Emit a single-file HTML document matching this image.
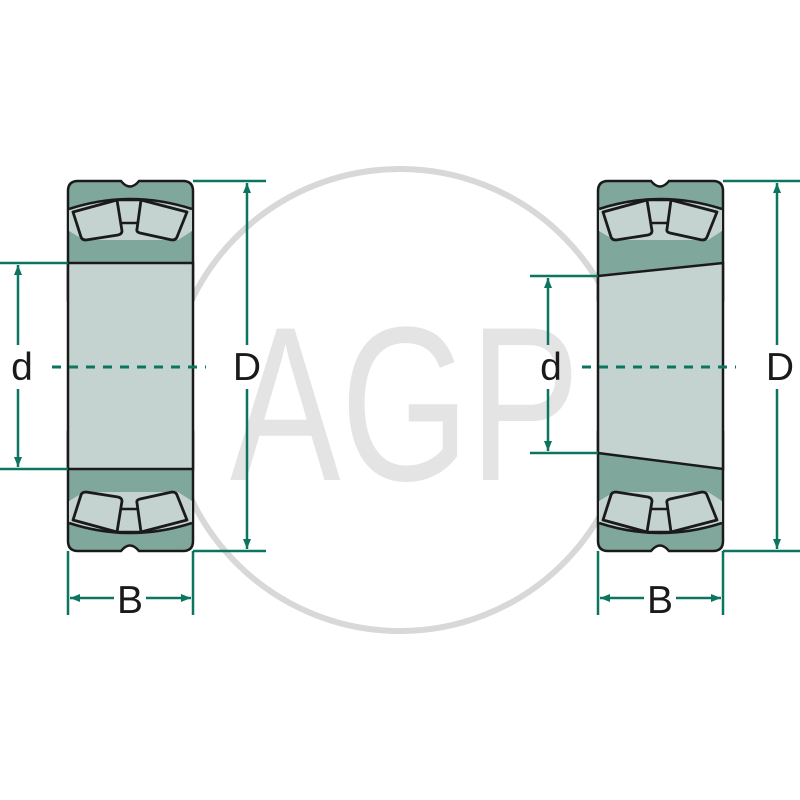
<!DOCTYPE html>
<html><head><style>html,body{margin:0;padding:0;background:#fff}svg{display:block}</style></head>
<body>
<svg width="800" height="800" viewBox="0 0 800 800" xmlns="http://www.w3.org/2000/svg">
<defs>
<marker id="ar" viewBox="0 0 10 10" refX="10" refY="5" markerWidth="11" markerHeight="10" markerUnits="userSpaceOnUse" orient="auto-start-reverse"><path d="M0,1 L10,5 L0,9 Z" fill="#0b7560"/></marker>
<g id="top">
<path d="M68,300 L68,191 Q68,181 78,181 L121,181 Q130,192 139,181 L183,181 Q193,181 193,191 L193,300 Z" fill="#7fa79c" stroke="#1a1a1a" stroke-width="2.5"/>
<path d="M69,209 Q130,189 192,209 L192,231 L178,240 L84,240 L69,231 Z" fill="#c4d3cf" stroke="none"/>
<path d="M69,209 Q130,189 192,209" fill="none" stroke="#1a1a1a" stroke-width="2.5"/>
<path d="M117,200 L141,200 L141,223 L117,223 Z" fill="#c4d3cf" stroke="#1a1a1a" stroke-width="2.5"/>
<path d="M73,212 L117,200 L122,231 Q122,234 118,235 L86,240 Q82,240 81,237 Z" fill="#c4d3cf" stroke="#1a1a1a" stroke-width="2.8" stroke-linejoin="round"/>
<path d="M141,200 L187,212 L177,237 Q176,240 172,240 L140,233 Q136,232 137,229 Z" fill="#c4d3cf" stroke="#1a1a1a" stroke-width="2.8" stroke-linejoin="round"/>
</g>
</defs>
<text x="405" y="480" font-family="Liberation Sans, sans-serif" font-size="220" fill="#e4e4e4" text-anchor="middle" textLength="350" lengthAdjust="spacingAndGlyphs">AGP</text>
<circle cx="400" cy="400" r="231" fill="none" stroke="#d8d8d8" stroke-width="6"/>

<use href="#top"/>
<use href="#top" transform="translate(0,732) scale(1,-1)"/>
<rect x="68" y="263" width="125" height="206" fill="#c4d3cf" stroke="#1a1a1a" stroke-width="2.5"/>

<use href="#top" transform="translate(530,0)"/>
<use href="#top" transform="translate(530,732) scale(1,-1)"/>
<path d="M598,276 L723,263 L723,469 L598,453 Z" fill="#c4d3cf" stroke="#1a1a1a" stroke-width="2.5"/>

<g stroke="#0b7560" stroke-width="2.5" fill="none">
<line x1="193" y1="181" x2="266" y2="181"/><line x1="193" y1="551" x2="266" y2="551"/>
<line x1="247" y1="183" x2="247" y2="345" marker-start="url(#ar)"/><line x1="247" y1="389" x2="247" y2="549" marker-end="url(#ar)"/>
<line x1="0" y1="263" x2="68" y2="263"/><line x1="0" y1="469" x2="68" y2="469"/>
<line x1="18" y1="265" x2="18" y2="345" marker-start="url(#ar)"/><line x1="18" y1="389" x2="18" y2="467" marker-end="url(#ar)"/>
<line x1="68" y1="551" x2="68" y2="615"/><line x1="193" y1="551" x2="193" y2="615"/>
<line x1="70" y1="598" x2="114" y2="598" marker-start="url(#ar)"/><line x1="146" y1="598" x2="191" y2="598" marker-end="url(#ar)"/>
<line x1="52" y1="367" x2="206" y2="367" stroke-dasharray="9,8" stroke-width="3"/>
<line x1="723" y1="181" x2="800" y2="181"/><line x1="723" y1="551" x2="800" y2="551"/>
<line x1="777" y1="183" x2="777" y2="345" marker-start="url(#ar)"/><line x1="777" y1="389" x2="777" y2="549" marker-end="url(#ar)"/>
<line x1="530" y1="276" x2="598" y2="276"/><line x1="530" y1="453" x2="598" y2="453"/>
<line x1="548" y1="278" x2="548" y2="345" marker-start="url(#ar)"/><line x1="548" y1="389" x2="548" y2="451" marker-end="url(#ar)"/>
<line x1="598" y1="551" x2="598" y2="615"/><line x1="723" y1="551" x2="723" y2="615"/>
<line x1="600" y1="598" x2="644" y2="598" marker-start="url(#ar)"/><line x1="676" y1="598" x2="721" y2="598" marker-end="url(#ar)"/>
<line x1="582" y1="367" x2="736" y2="367" stroke-dasharray="9,8" stroke-width="3"/>
</g>
<g font-family="Liberation Sans, sans-serif" font-size="39" fill="#1a1a1a" text-anchor="middle">
<text x="22" y="380">d</text>
<text x="247" y="380">D</text>
<text x="130" y="613">B</text>
<text x="551" y="380">d</text>
<text x="780" y="380">D</text>
<text x="660" y="613">B</text>
</g>
</svg>
</body></html>
